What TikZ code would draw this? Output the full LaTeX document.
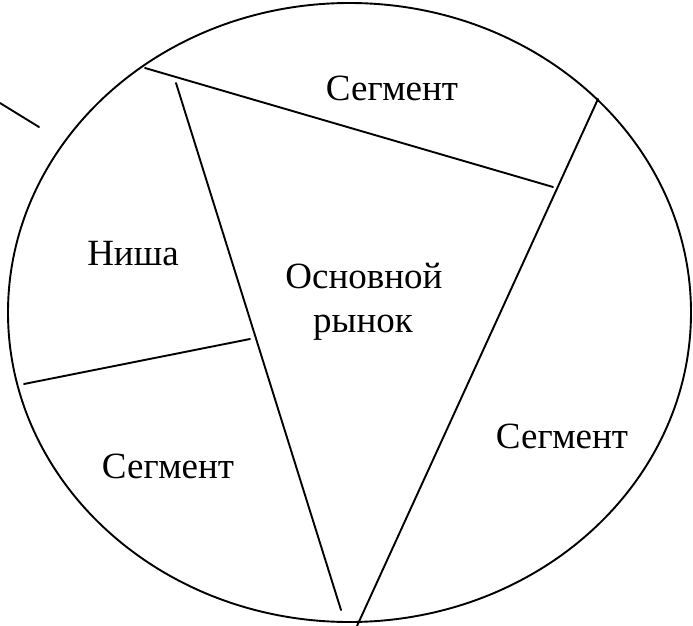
\documentclass[tikz,border=0pt]{standalone}
\usepackage{fontspec}
\setmainfont{Liberation Serif}
\begin{document}
\begin{tikzpicture}[x=1pt,y=-1pt,
  edge/.style={line width=1.9pt, line cap=round},
  lbl/.style={anchor=base, inner sep=0pt, font=\fontsize{37}{44}\selectfont}]
\useasboundingbox (0,0) rectangle (693,626);
% outer ellipse
\coordinate (c) at (349.5,312.5);
\draw[edge] (c) ellipse [x radius=341.5, y radius=309.5];
% dividing lines
\coordinate (a1) at (145,68);   \coordinate (a2) at (553,187);
\coordinate (b1) at (176,83);   \coordinate (b2) at (341,610);
\coordinate (d1) at (598,99);   \coordinate (d2) at (357,626);
\coordinate (e1) at (24,384);   \coordinate (e2) at (250,339);
\coordinate (f1) at (0,103);    \coordinate (f2) at (39,127);
\draw[edge] (a1) -- (a2);
\draw[edge] (b1) -- (b2);
\draw[edge] (d1) -- (d2);
\draw[edge] (e1) -- (e2);
\draw[edge] (f1) -- (f2);
% labels
\node[lbl] (segtop) at (392,100) {Сегмент};
\node[lbl] (nisha) at (133,265) {Ниша};
\node[lbl] (osn) at (364,288) {Основной};
\node[lbl] (ryn) at (363,332) {рынок};
\node[lbl] (segleft) at (168,478) {Сегмент};
\node[lbl] (segright) at (562,448) {Сегмент};
\end{tikzpicture}
\end{document}
